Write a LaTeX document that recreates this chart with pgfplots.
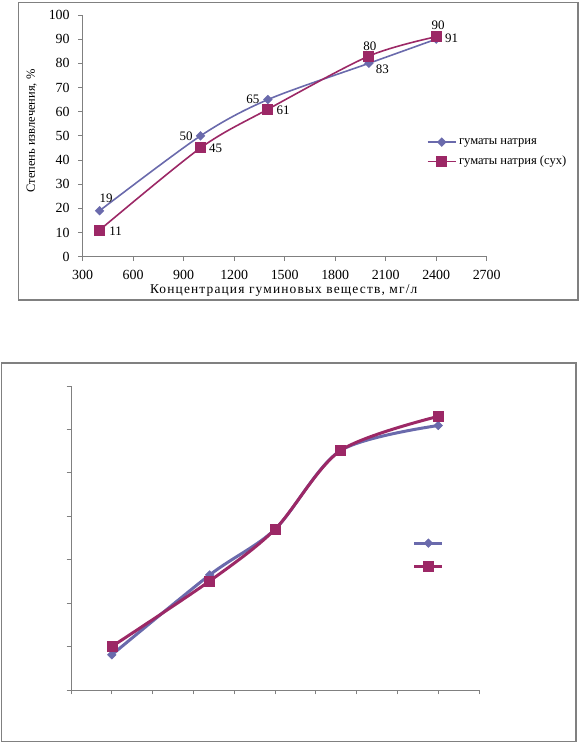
\documentclass[border=0pt]{standalone}
\usepackage{fontspec}
\setmainfont{Liberation Serif}
\newfontfamily\spacedfont[LetterSpace=8.5]{Liberation Serif}
\usepackage{pgfplots}
\usepackage{pgfplotstable}
\pgfplotsset{compat=1.18}
\definecolor{sblue}{RGB}{106,106,172}
\definecolor{sred}{RGB}{156,40,102}
\definecolor{fgray}{RGB}{128,128,128}

\pgfplotstableread{
x y lab dx dy
400 19 19 6.5 12.8
1000 50 50 -14.5 0
1400 65 65 -15 0
2000 80 80 1 16.6
2400 90 90 1.8 14.2
}\blueA
\pgfplotstableread{
x y lab dx dy
400 11 11 16 -1
1000 45 45 15 -0.3
1400 61 61 15.2 -1.4
2000 83 83 13.6 -13.2
2400 91 91 15.5 -1.6
}\redA
\pgfplotstableread{
x y
1 8.1
3.4 26.5
5 37
6.6 55.1
9 60.9
}\blueB
\pgfplotstableread{
x y
1 10
3.4 25.1
5 37
6.6 55.1
9 63
}\redB

\pgfplotsset{
  excelaxis/.style={
    scale only axis, anchor=south west,
    axis lines=left,
    axis line style={-, fgray, line width=0.9bp},
    tick style={fgray, line width=0.8bp},
    tick align=outside,
    major tick length=4.5bp,
    /pgf/number format/assume math mode=true,
    /pgf/number format/1000 sep={},
    ticklabel style={font=\fontsize{14}{14}\selectfont},
    xticklabel style={yshift=-8bp, inner sep=0.5bp},
    yticklabel style={xshift=-5bp},
    clip=false,
    legend cell align=left,
    legend image code/.code={\draw[mark repeat=2,mark phase=2,##1] plot coordinates {(0bp,0bp) (14bp,0bp) (28bp,0bp)};},
  }
}

\begin{document}
\begin{tikzpicture}[x=1bp,y=1bp]
\useasboundingbox (0,0) rectangle (582,743);
\draw[fgray, line width=1.2bp] (18.3,443) rectangle (578,740.3);
\draw[fgray, line width=1.2bp] (1.3,1.3) rectangle (576,380);

% ---------- top chart ----------
\begin{axis}[excelaxis,
  at={(82.7bp,486.3bp)}, width=404bp, height=241.7bp,
  xmin=300, xmax=2700, ymin=0, ymax=100,
  xtick distance=300, ytick distance=10,
  xlabel={Концентрация гуминовых веществ, мг/л},
  ylabel={Степень извлечения, \%},
  every axis x label/.style={at={(axis description cs:0.4975,-0.1418)}, anchor=center, inner sep=0pt, font=\spacedfont\fontsize{13.5}{13.5}\selectfont},
  every axis y label/.style={at={(axis description cs:-0.1262,0.52)}, anchor=center, rotate=90, font=\fontsize{12.5}{12.5}\selectfont},
  legend style={draw=none, fill=none, inner sep=0pt, at={(0.8515,0.4338)}, anchor=west,
    font=\fontsize{12.6}{12.6}\selectfont, row sep=8.5bp, column sep=2.5bp,
    nodes={inner sep=0pt, text height=8bp, text depth=3bp}},
  visualization depends on={\thisrow{dx} \as \mydx},
  visualization depends on={\thisrow{dy} \as \mydy},
  nodes near coords, point meta=explicit symbolic,
  every node near coord/.append style={anchor=center, xshift=\mydx bp, yshift=\mydy bp,
     font=\fontsize{13}{13}\selectfont, text=black, inner sep=0pt},
]
\addplot[sblue, line width=1.6bp, smooth, tension=0.5, mark=diamond*, mark size=3.6bp,
  mark options={solid, xscale=1.33, fill=sblue, draw=sblue}]
  table[x=x, y=y, meta=lab] {\blueA};
\addlegendentry{гуматы натрия}
\addplot[sred, line width=1.6bp, smooth, tension=0.5, mark=square*, mark size=4.7bp,
  mark options={solid, fill=sred, draw=sred}]
  table[x=x, y=y, meta=lab] {\redA};
\addlegendentry{гуматы натрия (сух)}
\end{axis}

% ---------- bottom chart ----------
\begin{axis}[excelaxis,
  at={(71bp,53bp)}, width=408bp, height=304bp,
  xmin=0, xmax=10, ymin=0, ymax=70,
  xtick={0,1,...,10}, ytick={0,10,...,70},
  xticklabels={}, yticklabels={},
  legend style={draw=none, fill=none, inner sep=0pt, at={(0.8375,0.4452)}, anchor=west,
    row sep=11bp, nodes={inner sep=0pt, text height=6bp, text depth=6bp}},
]
\addplot[sblue, line width=3bp, smooth, tension=0.5, mark=diamond*, mark size=4.3bp,
  mark options={solid, line width=0.5bp, xscale=1.33, fill=sblue, draw=sblue}]
  table[x=x, y=y] {\blueB};
\addlegendentry{}
\addplot[sred, line width=3bp, smooth, tension=0.5, mark=square*, mark size=5bp,
  mark options={solid, line width=0.5bp, fill=sred, draw=sred}]
  table[x=x, y=y] {\redB};
\addlegendentry{}
\end{axis}
\end{tikzpicture}
\end{document}
